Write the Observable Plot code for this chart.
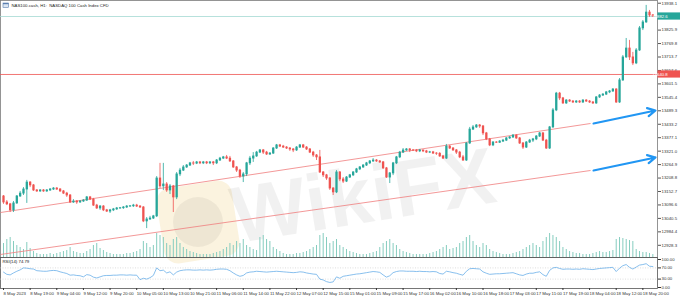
<!DOCTYPE html>
<html><head><meta charset="utf-8">
<script src="https://cdn.jsdelivr.net/npm/d3@7"></script>
<script src="https://cdn.jsdelivr.net/npm/@observablehq/plot@0.6"></script>
<style>
body{margin:0;background:#fff;}
#wrap{position:relative;width:680px;height:300px;overflow:hidden;font-family:"Liberation Sans","DejaVu Sans",sans-serif;}
#wrap svg{position:absolute;left:0;overflow:visible;}
.wm{position:absolute;pointer-events:none;}
</style></head><body><div id="wrap"></div>
<script>
const title = "NAS100.cash, H1:  NASDAQ 100 Cash Index CFD";
const open0 = 13132;
const closes = [
13107,13099,13074,13103,13132,13144,13161,13190,13178,13157,
13153,13157,13153,13157,13161,13165,13161,13153,13144,13136,
13107,13111,13107,13111,13115,13128,13119,13094,13082,13090,
13074,13069,13074,13078,13082,13083,13086,13090,13091,13094,
13090,13086,13028,13036,13040,13049,13207,13174,13182,13157,
13174,13128,13224,13240,13253,13261,13270,13269,13274,13270,
13274,13270,13274,13270,13282,13290,13295,13290,13278,13253,
13240,13215,13224,13270,13290,13299,13315,13324,13315,13307,
13311,13332,13345,13340,13336,13332,13328,13324,13336,13345,
13336,13328,13315,13303,13295,13232,13220,13207,13165,13149,
13232,13203,13194,13211,13220,13232,13245,13253,13261,13270,
13278,13282,13278,13274,13249,13211,13228,13270,13295,13315,
13324,13328,13324,13323,13320,13324,13320,13315,13316,13311,
13310,13299,13290,13340,13332,13324,13315,13295,13282,13353,
13411,13420,13428,13424,13395,13370,13345,13357,13356,13361,
13365,13374,13378,13386,13374,13353,13336,13357,13365,13370,
13382,13395,13365,13332,13420,13491,13561,13541,13520,13532,
13528,13524,13528,13524,13532,13528,13524,13520,13545,13553,
13557,13566,13570,13578,13524,13616,13712,13749,13712,13687,
13741,13833,13858,13899,13887,13882.6];
const highs = [
13136,13115,13103,13111,13136,13153,13169,13199,13194,13182,
13161,13161,13161,13161,13165,13169,13169,13165,13157,13149,
13140,13119,13115,13115,13119,13132,13132,13124,13099,13094,
13094,13078,13078,13082,13086,13086,13090,13094,13094,13099,
13099,13094,13090,13044,13049,13053,13215,13270,13270,13190,
13182,13178,13232,13249,13261,13265,13274,13278,13278,13278,
13278,13278,13278,13278,13286,13295,13299,13303,13299,13282,
13257,13245,13232,13274,13299,13315,13320,13328,13328,13320,
13315,13336,13349,13349,13345,13340,13336,13332,13340,13349,
13349,13340,13332,13320,13307,13324,13236,13224,13211,13169,
13240,13236,13211,13215,13224,13236,13249,13257,13265,13274,
13282,13290,13286,13282,13278,13253,13232,13274,13299,13320,
13332,13332,13332,13328,13328,13328,13324,13324,13320,13320,
13315,13315,13303,13349,13345,13336,13328,13320,13303,13357,
13420,13428,13432,13432,13428,13399,13374,13361,13361,13365,
13370,13378,13382,13390,13390,13378,13357,13361,13370,13374,
13386,13399,13399,13370,13424,13499,13566,13566,13545,13536,
13536,13532,13532,13532,13536,13536,13532,13528,13549,13557,
13561,13570,13574,13582,13582,13624,13720,13791,13783,13733,
13749,13841,13866,13929,13908,13891];
const lows = [
13099,13094,13065,13065,13099,13128,13136,13103,13169,13153,
13149,13149,13149,13149,13153,13157,13157,13149,13140,13128,
13103,13103,13099,13103,13107,13111,13115,13090,13078,13074,
13069,13065,13061,13069,13074,13078,13078,13082,13086,13086,
13086,13082,13023,12998,13032,13036,13044,13165,13157,13149,
13140,13065,13119,13215,13236,13249,13257,13261,13265,13265,
13265,13265,13265,13261,13265,13278,13286,13286,13274,13249,
13232,13207,13190,13215,13261,13274,13295,13311,13307,13303,
13303,13307,13328,13336,13332,13328,13320,13315,13320,13332,
13332,13324,13311,13295,13282,13228,13211,13199,13157,13136,
13144,13194,13186,13190,13207,13215,13228,13240,13249,13257,
13265,13274,13274,13270,13245,13207,13186,13219,13265,13290,
13311,13320,13315,13320,13315,13315,13315,13311,13311,13307,
13303,13295,13286,13286,13328,13320,13307,13290,13278,13278,
13349,13407,13416,13416,13386,13365,13340,13340,13353,13353,
13357,13361,13370,13374,13370,13349,13328,13332,13353,13357,
13365,13378,13361,13328,13328,13416,13486,13532,13516,13516,
13524,13520,13520,13520,13520,13524,13520,13516,13516,13541,
13549,13553,13561,13566,13520,13520,13612,13708,13699,13678,
13682,13737,13824,13854,13879,13879];
const volumes = [
14,18,20,16,12,10,8,15,9,6, 4,3,3,3,4,3,4,5,6,7,
10,6,5,4,4,6,8,12,14,9, 7,5,4,3,3,3,3,4,4,5,
6,8,16,14,10,12,24,22,20,14, 12,18,20,14,10,8,6,5,4,3,
3,3,3,4,5,6,8,10,14,12, 16,14,18,12,10,8,7,20,22,18,
16,10,8,6,4,3,3,3,4,4, 5,6,8,10,12,22,24,20,14,16,
18,12,10,8,6,5,4,3,3,3, 4,5,6,10,14,16,18,14,12,8,
6,5,4,3,3,3,3,3,4,5, 6,8,10,12,8,9,10,14,16,20,
22,16,12,10,14,12,8,6,5,4, 3,3,3,4,5,6,8,10,12,14,
12,10,16,20,24,22,20,16,10,8, 6,5,4,4,3,3,3,4,5,6,
5,5,6,7,18,20,19,18,17,16, 8,6,5,5,4,3];
const rsi = [
55,47,45,52,58,63,70,69,67,66, 60,59,58,58,60,61,60,56,53,50,
44,45,43,42,38,46,44,37,34,38, 42,43,43,44,44,45,45,44,45,44,
44,28,33,30,35,43,70,60,62,52, 56,45,55,60,62,63,63,62,62,63,
62,63,62,63,65,66,66,65,60,52, 45,40,43,52,55,56,58,57,56,55,
56,57,58,57,56,55,54,53,54,56, 55,52,50,48,47,30,27,21,18,20,
38,33,40,42,44,46,48,49,51,53, 55,57,56,54,45,37,42,53,57,59,
59,58,58,58,57,58,57,57,56,57, 56,50,48,58,56,53,51,47,44,58,
67,68,67,66,56,51,47,48,49,49, 50,51,52,53,49,45,43,48,51,51,
54,56,46,40,61,70,72,68,65,66, 66,65,66,65,67,66,65,64,66,68,
69,70,71,72,57,69,78,82,72,66, 73,80,82,85,76,74.79];
// 13882.0 sits under the current-price tag, as in the reference
const priceTicks = [13938.1,13825.9,13769.8,13713.7,13657.6,13601.5,13545.4,13489.3,13433.2,13377.1,13321.0,13264.9,13208.8,13152.7,13096.6,13040.5,12984.4,12928.3];
const rsiTicks = [0, 30, 70, 100];
const rsiLevels = [30, 70];
const timeTickIdx = [0,8,16,24,32,40,48,56,64,72,80,88,96,104,112,120,128,136,144,152,160,168,176,184,192];
const timeLabels = ["8 May 2023","8 May 19:00","9 May 04:00","9 May 12:00","9 May 20:00","10 May 05:00","10 May 13:00","10 May 21:00","11 May 06:00","11 May 14:00","11 May 22:00","12 May 07:00","12 May 15:00","15 May 01:00","15 May 09:00","15 May 17:00","16 May 02:00","16 May 10:00","16 May 18:00","17 May 03:00","17 May 11:00","17 May 19:00","18 May 04:00","18 May 12:00","18 May 20:00"];
const resistance = 13640.8;
const channelUpper = [[-0.9, 13065.1], [176.3, 13436.4]];
const channelLower = [[-0.9, 12890.0], [176.3, 13240.3]];
const arrowStarts = [[177.2, 13436.4], [177.2, 13240.3]];
const arrowEnds = [[195.8, 13490.6], [195.8, 13294.6]];

const AXIS_X = 657;
const FONT = "Liberation Sans, DejaVu Sans, sans-serif";
const FS = 4.3;
const up = "#26a69a", down = "#ef5350";
const xOpt = () => ({domain: [-0.9, 196.4], range: [0, AXIS_X]});

const candles = closes.map((c, i) => ({i, o: i ? closes[i - 1] : open0, c, h: highs[i], l: lows[i]}));
const col = d => d.c >= d.o ? up : down;
const last = closes[closes.length - 1];
const channels = [channelUpper, channelLower].map(([a, b]) => ({x1: a[0], y1: a[1], x2: b[0], y2: b[1]}));
const arrows = arrowStarts.map((s, k) => ({x1: s[0], y1: s[1], x2: arrowEnds[k][0], y2: arrowEnds[k][1]}));
const volData = volumes.map((v, i) => ({i, v}));
const rsiData = rsi.map((v, i) => ({i, v}));
const labelMap = new Map(timeTickIdx.map((d, k) => [d, timeLabels[k]]));

function tag(value, bg) {
  return (index, scales, values, dims) => {
    const y = scales.y(value);
    const g = d3.create("svg:g");
    g.append("rect").attr("x", AXIS_X + 0.5).attr("y", y - 3.6).attr("width", 23).attr("height", 7.2).attr("fill", bg);
    g.append("text").attr("x", AXIS_X + 3).attr("y", y).attr("dy", "0.36em").attr("fill", "#fff")
      .attr("font-size", FS).attr("font-family", FONT).text(value.toFixed(1));
    return g.node();
  };
}
function icon() {
  return () => {
    const g = d3.create("svg:g");
    g.append("rect").attr("x", 3).attr("y", 3).attr("width", 5.5).attr("height", 4.5).attr("fill", "#dbe6f3").attr("stroke", "#5b7fb0").attr("stroke-width", 0.6);
    g.append("rect").attr("x", 3).attr("y", 3).attr("width", 5.5).attr("height", 1.2).attr("fill", "#5b7fb0");
    return g.node();
  };
}

const wrap = document.getElementById("wrap");
function place(svg, top) { svg.style.top = top + "px"; svg.style.left = "0px"; wrap.appendChild(svg); }

// WikiFX watermark (behind the chart)
const logo = document.createElement("div");
logo.className = "wm";
logo.style.cssText = "left:160px;top:184px;width:76px;height:76px;border-radius:14px;background:rgba(240,205,120,0.24);transform:rotate(-9deg);";
wrap.appendChild(logo);
const globe = document.createElement("div");
globe.className = "wm";
globe.style.cssText = "left:173px;top:197px;width:50px;height:50px;border-radius:50%;background:rgba(0,0,0,0.05);";
wrap.appendChild(globe);
const wm = document.createElement("div");
wm.className = "wm";
wm.textContent = "WikiFX";
wm.style.cssText = "left:238px;top:176px;font:bold 80px 'Liberation Sans',sans-serif;line-height:1;color:rgba(0,0,0,0.055);transform:rotate(-9deg);transform-origin:left bottom;";
wrap.appendChild(wm);

// volume overlay (behind candles)
const vol = Plot.plot({
  width: 680, height: 257, marginLeft: 0, marginRight: 23, marginTop: 0, marginBottom: 0,
  x: {...xOpt(), axis: null},
  y: {domain: [0, 100], range: [257, 157], axis: null},
  style: {background: "transparent", overflow: "visible"},
  marks: [Plot.ruleX(volData, {x: "i", y1: 0, y2: "v", stroke: "#86cdbf", strokeWidth: 1})]
});
place(vol, 0);

const main = Plot.plot({
  width: 680, height: 257, marginLeft: 0, marginRight: 23, marginTop: 0, marginBottom: 0,
  x: {...xOpt(), axis: null},
  y: {domain: [12877.4, 13949.4], range: [257, 0]},
  style: {background: "transparent", overflow: "visible", fontFamily: FONT, fontSize: FS + "px", color: "#333"},
  marks: [
    Plot.frame({stroke: "#7a7a7a", strokeWidth: 0.8}),
    Plot.ruleY([resistance], {stroke: "#ef5350", strokeWidth: 0.8}),
    Plot.ruleY([last], {stroke: "#a5d9d3", strokeWidth: 0.8}),
    Plot.link(channels, {x1: "x1", y1: "y1", x2: "x2", y2: "y2", stroke: "#f07d7d", strokeWidth: 0.8}),
    Plot.ruleX(candles, {x: "i", y1: "l", y2: "h", stroke: col, strokeWidth: 0.8}),
    Plot.ruleX(candles, {x: "i", y1: d => Math.max(d.o, d.c), y2: d => Math.min(d.o, d.c), stroke: col, strokeWidth: 2.3, insetTop: -0.4, insetBottom: -0.4}),
    Plot.arrow(arrows, {x1: "x1", y1: "y1", x2: "x2", y2: "y2", stroke: "#2196f3", strokeWidth: 2.2, headLength: 6, headAngle: 55}),
    Plot.axisY({anchor: "right", ticks: priceTicks, tickFormat: d => d.toFixed(1), tickSize: 3, tickPadding: 1, fontSize: FS, label: null, stroke: "#555"}),
    Plot.text([title], {frameAnchor: "top-left", dx: 11, dy: 3, textAnchor: "start", lineAnchor: "top", fontSize: FS, fill: "#222"}),
    tag(resistance, "#ef5350"),
    tag(last, "#26a69a"),
    icon()
  ]
});
place(main, 0);

const rsiPlot = Plot.plot({
  width: 680, height: 43, marginLeft: 0, marginRight: 23, marginTop: 0, marginBottom: 12,
  x: xOpt(),
  y: {domain: [0, 100], range: [30, 2]},
  style: {background: "transparent", overflow: "visible", fontFamily: FONT, fontSize: FS + "px", color: "#333"},
  marks: [
    Plot.frame({stroke: "#555", strokeWidth: 0.8}),
    Plot.ruleY(rsiLevels, {stroke: "#c8c8c8", strokeWidth: 0.6, strokeDasharray: "1,1.5"}),
    Plot.line(rsiData, {x: "i", y: "v", stroke: "#6aaee8", strokeWidth: 0.8}),
    Plot.text([`RSI(14) ${rsi[rsi.length - 1].toFixed(2)}`], {frameAnchor: "top-left", dx: 2, dy: 2, textAnchor: "start", lineAnchor: "top", fontSize: FS, fill: "#222"}),
    Plot.axisY({anchor: "right", ticks: rsiTicks, tickFormat: d => d.toFixed(2), tickSize: 3, tickPadding: 1, fontSize: FS, label: null}),
    Plot.axisX({anchor: "bottom", ticks: timeTickIdx, tickFormat: d => labelMap.get(d), tickSize: 2, tickPadding: 1.5, textAnchor: "start", fontSize: FS, label: null})
  ]
});
place(rsiPlot, 257);
</script>
</body></html>
